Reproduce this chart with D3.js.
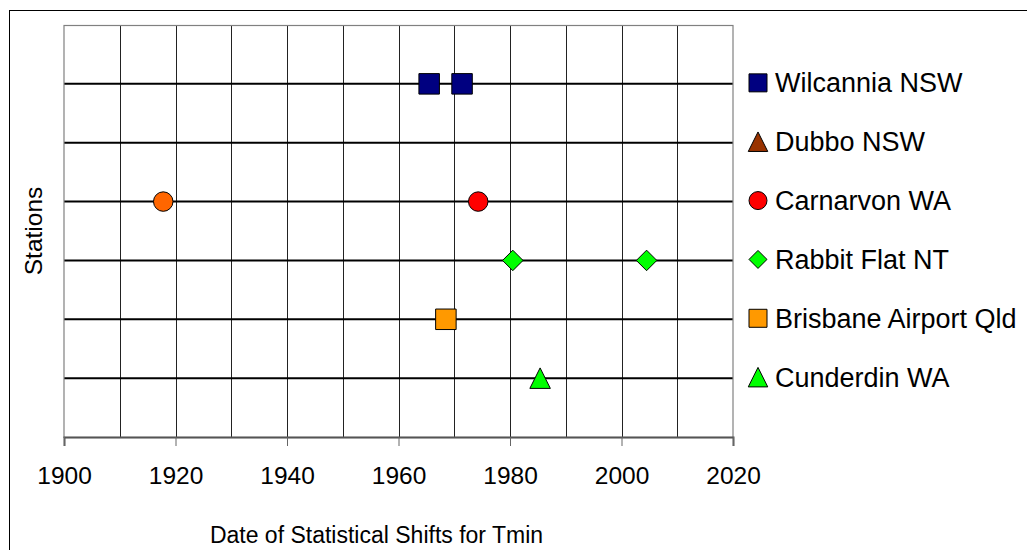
<!DOCTYPE html>
<html>
<head>
<meta charset="utf-8">
<script src="https://cdn.jsdelivr.net/npm/d3@7/dist/d3.min.js"></script>
<style>
  html, body { margin: 0; padding: 0; background: #fff; }
  svg { display: block; }
  text { font-family: "Liberation Sans", Arial, sans-serif; fill: #000; }
</style>
</head>
<body>
<svg id="chart" width="1027" height="550"></svg>
<script>
// ---- data ----
const stations = ["Wilcannia NSW", "Dubbo NSW", "Carnarvon WA", "Rabbit Flat NT", "Brisbane Airport Qld", "Cunderdin WA"];
const stationRows = [6, 5, 4, 3, 2, 1];
const stationShapes = ["square", "triangle", "circle", "diamond", "square", "triangle"];
const stationColors = ["#000080", "#993300", "#FF0000", "#00FF00", "#FF9900", "#00FF00"];

const wilcanniaYears = [1965.5, 1971.4];
const dubboYears = [];
const carnarvonYears = [1917.8, 1974.3];
const carnarvonPointColors = ["#FF6600", "#FF0000"];
const rabbitFlatYears = [1980.5, 2004.5];
const brisbaneYears = [1968.5];
const cunderdinYears = [1985.4];

const xTickLabels = [1900, 1920, 1940, 1960, 1980, 2000, 2020];
const xGridYears = [1910, 1920, 1930, 1940, 1950, 1960, 1970, 1980, 1990, 2000, 2010];
const yGridRows = [1, 2, 3, 4, 5, 6];

const xTitle = "Date of Statistical Shifts for Tmin";
const yTitle = "Stations";

// ---- build table ----
const seriesYears = [wilcanniaYears, dubboYears, carnarvonYears, rabbitFlatYears, brisbaneYears, cunderdinYears];
const points = [];
seriesYears.forEach((years, i) => {
  years.forEach((yr, j) => {
    let color = stationColors[i];
    if (i === 2) color = carnarvonPointColors[j];
    points.push({ year: yr, row: stationRows[i], shape: stationShapes[i], color: color });
  });
});

// ---- layout ----
const svg = d3.select("#chart");
const plot = { left: 64, right: 733, top: 25, bottom: 437 };
const x = d3.scaleLinear().domain([1900, 2020]).range([plot.left, plot.right]);
const y = d3.scaleLinear().domain([0, 7]).range([plot.bottom, plot.top]);

function markerPath(shape, s) {
  const h = s / 2;
  if (shape === "square") return `M${-h},${-h}H${h}V${h}H${-h}Z`;
  if (shape === "diamond") return `M0,${-h}L${h},0L0,${h}L${-h},0Z`;
  if (shape === "triangle") return `M0,${-h}L${h},${h}L${-h},${h}Z`;
  return `M${h},0A${h},${h} 0 1,1 ${-h},0A${h},${h} 0 1,1 ${h},0Z`;
}

// outer frame
svg.append("rect")
  .attr("x", 9.5).attr("y", 10.5).attr("width", 1040).attr("height", 560)
  .attr("fill", "none").attr("stroke", "#000").attr("stroke-width", 1);

// vertical grid
svg.append("g").selectAll("line").data(xGridYears).join("line")
  .attr("x1", d => Math.round(x(d)) + 0.5).attr("x2", d => Math.round(x(d)) + 0.5)
  .attr("y1", plot.top).attr("y2", plot.bottom)
  .attr("stroke", "#222").attr("stroke-width", 1);

// horizontal grid
svg.append("g").selectAll("line").data(yGridRows).join("line")
  .attr("x1", plot.left).attr("x2", plot.right)
  .attr("y1", d => y(d)).attr("y2", d => y(d))
  .attr("stroke", "#000").attr("stroke-width", 2);

// plot border
svg.append("rect")
  .attr("x", plot.left).attr("y", plot.top + 0.5)
  .attr("width", plot.right - plot.left).attr("height", plot.bottom - plot.top)
  .attr("fill", "none").attr("stroke", "#808080").attr("stroke-width", 1.2);

// x axis
const xAxis = d3.axisBottom(x).tickValues(xTickLabels).tickSize(9).tickPadding(12).tickFormat(d3.format("d"));
const gx = svg.append("g").attr("transform", `translate(0,${plot.bottom})`).call(xAxis);
gx.select(".domain").attr("stroke", "#555").attr("stroke-width", 2);
gx.selectAll(".tick line").attr("stroke", "#666").attr("stroke-width", 1);
gx.selectAll(".tick text")
  .attr("font-family", '"Liberation Sans", Arial, sans-serif')
  .attr("font-size", 24.5).attr("fill", "#000")
  .attr("y", 0).attr("dy", 46.5);

// axis titles
svg.append("text")
  .attr("x", (plot.left + plot.right) / 2 - 22).attr("y", 543)
  .attr("text-anchor", "middle").attr("font-size", 23)
  .text(xTitle);

svg.append("text")
  .attr("transform", `translate(42,${(plot.top + plot.bottom) / 2}) rotate(-90)`)
  .attr("text-anchor", "middle").attr("font-size", 24.5)
  .text(yTitle);

// points
svg.append("g").selectAll("path").data(points).join("path")
  .attr("transform", d => `translate(${x(d.year)},${y(d.row)})`)
  .attr("d", d => markerPath(d.shape, d.shape === "circle" ? 19.5 : 20.5))
  .attr("fill", d => d.color)
  .attr("stroke", "#000").attr("stroke-width", 1);

// legend
const legend = svg.append("g").selectAll("g").data(stations).join("g")
  .attr("transform", (d, i) => `translate(758,${y(stationRows[i]) - 1})`);
legend.append("path")
  .attr("d", (d, i) => markerPath(stationShapes[i], stationShapes[i] === "triangle" ? 19.5 : 18))
  .attr("fill", (d, i) => stationColors[i])
  .attr("stroke", "#000").attr("stroke-width", 1);
legend.append("text")
  .attr("x", 17).attr("y", 9.5)
  .attr("font-size", 27)
  .text(d => d);
</script>
</body>
</html>
